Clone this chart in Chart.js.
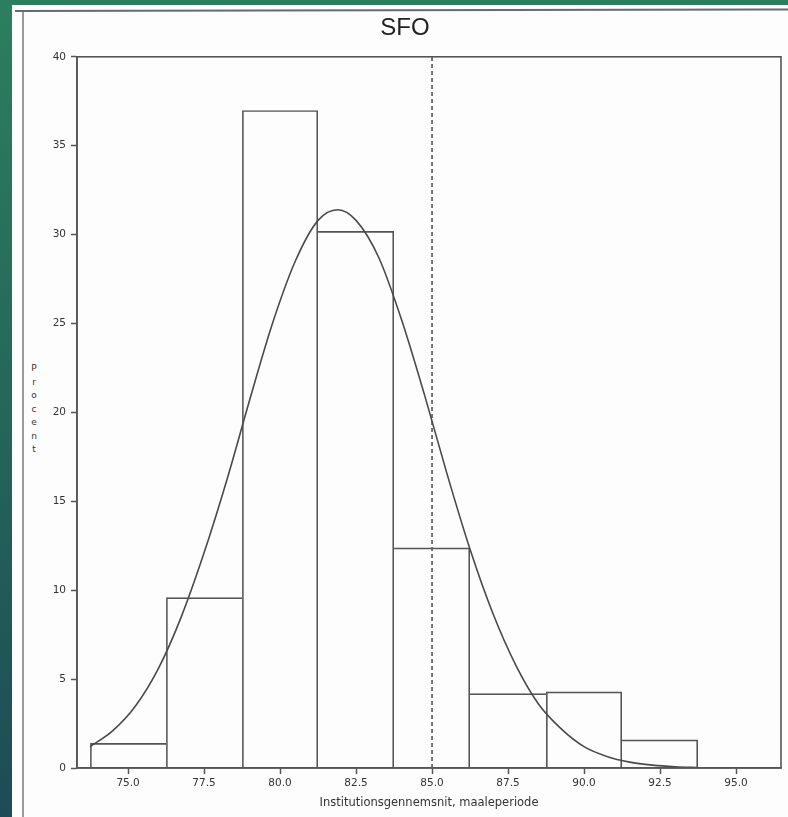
<!DOCTYPE html>
<html>
<head>
<meta charset="utf-8">
<script src="https://cdn.jsdelivr.net/npm/chart.js@4"></script>
<style>
  html, body { margin: 0; padding: 0; }
  body { width: 788px; height: 817px; overflow: hidden; position: relative;
         background: linear-gradient(to bottom, #2b7f5e 0%, #25665a 50%, #1e4b56 100%); }
  #paper { position: absolute; left: 12px; top: 5px; width: 776px; height: 812px; background: #fdfdfd; }
  #topline { position: absolute; left: 15px; top: 10px; width: 773px; height: 2px; background: #6a6a6a; transform: rotate(-0.12deg); transform-origin: left center; }
  #leftline { position: absolute; left: 22px; top: 12px; width: 2px; height: 805px; background: #9a9a9a; }
  #wrap { position: absolute; left: 0; top: 0; width: 788px; height: 817px; }
  #ytitle { position: absolute; left: 27px; top: 362px; width: 14px; text-align: center;
            font-family: "DejaVu Sans", sans-serif; font-size: 9px; line-height: 13.5px; color: #333; }
</style>
</head>
<body>
<div id="paper"></div>
<div id="topline"></div>
<div id="leftline"></div>
<div id="ytitle">P<br>r<br>o<br>c<br>e<br>n<br>t</div>
<div id="wrap"><canvas id="c" width="788" height="817"></canvas></div>
<script>
// ---- data ----
const chartTitle = 'SFO';
const xAxisTitle = 'Institutionsgennemsnit, maaleperiode';
const binCenters = [75.0, 77.5, 80.0, 82.5, 85.0, 87.5, 90.0, 92.5];
const binPercent = [1.4, 9.6, 37.0, 30.2, 12.4, 4.2, 4.3, 1.6];
const curveX = [73.75, 74.5, 75.25, 76.0, 76.75, 77.5, 78.25, 79.0, 79.75, 80.5, 81.25, 81.9,
                82.5, 83.25, 84.0, 84.75, 85.5, 86.25, 87.0, 87.75, 88.5, 89.25, 90.0, 90.75,
                91.5, 92.25, 93.0, 93.75];
const curveY = [1.2, 2.1, 3.5, 5.6, 8.5, 12.1, 16.2, 20.7, 25.0, 28.5, 30.8, 31.4,
                30.8, 28.7, 25.2, 21.0, 16.5, 12.3, 8.7, 5.8, 3.6, 2.2, 1.2, 0.65,
                0.33, 0.16, 0.07, 0.03];
const refLineX = [85.0, 85.0];
const refLineY = [0, 40];
const xTicks = [75.0, 77.5, 80.0, 82.5, 85.0, 87.5, 90.0, 92.5, 95.0];
const yTicks = [0, 5, 10, 15, 20, 25, 30, 35, 40];
const xRange = [73.32, 96.48];
const yRange = [0, 40];

const ink = '#555';
const txt = '#333';
const bw = 1.6;

// shared bar edges are drawn once, by the taller neighbour
function barBorder(ctx) {
  const i = ctx.dataIndex, h = binPercent, n = h.length;
  return {
    top: bw,
    bottom: 0,
    left: (i === 0 || h[i] > h[i - 1]) ? bw : 0,
    right: (i === n - 1 || h[i] >= h[i + 1]) ? bw : 0
  };
}

const framePlugin = {
  id: 'frame',
  afterDatasetsDraw(chart) {
    const a = chart.chartArea, ctx = chart.ctx;
    ctx.save();
    ctx.strokeStyle = ink;
    ctx.lineWidth = bw;
    ctx.strokeRect(a.left, a.top, a.right - a.left, a.bottom - a.top);
    ctx.restore();
  }
};

new Chart(document.getElementById('c'), {
  type: 'bar',
  data: {
    datasets: [
      {
        type: 'line',
        data: curveX.map((x, i) => ({ x, y: curveY[i] })),
        borderColor: '#4a4a4a',
        borderWidth: 1.6,
        pointRadius: 0,
        fill: false,
        cubicInterpolationMode: 'monotone',
        order: 1
      },
      {
        type: 'line',
        data: refLineX.map((x, i) => ({ x, y: refLineY[i] })),
        borderColor: '#666',
        borderWidth: 1.8,
        borderDash: [4, 3],
        pointRadius: 0,
        fill: false,
        order: 2
      },
      {
        type: 'bar',
        data: binCenters.map((x, i) => ({ x, y: binPercent[i] })),
        backgroundColor: 'rgba(255,255,255,0)',
        borderColor: ink,
        borderWidth: barBorder,
        borderSkipped: false,
        inflateAmount: 0,
        barPercentage: 1,
        categoryPercentage: 1,
        order: 3
      }
    ]
  },
  options: {
    responsive: false,
    devicePixelRatio: 1,
    animation: false,
    layout: { padding: { left: 29, right: 7, top: 0, bottom: 0 } },
    plugins: {
      legend: { display: false },
      tooltip: { enabled: false },
      title: {
        display: true,
        text: chartTitle,
        color: '#222',
        font: { family: 'Liberation Sans', size: 24, weight: 'normal' },
        padding: { top: 14, bottom: 14 }
      }
    },
    scales: {
      x: {
        type: 'linear',
        min: xRange[0], max: xRange[1],
        offset: false,
        afterBuildTicks: s => { s.ticks = xTicks.map(v => ({ value: v })); },
        afterFit: s => { s.height = 49; },
        grid: { offset: false, drawOnChartArea: false, drawTicks: true, tickLength: 6, tickColor: ink, tickWidth: 1.5 },
        border: { display: true, color: ink, width: bw },
        ticks: {
          autoSkip: false, maxRotation: 0, padding: 3, color: txt,
          font: { family: 'DejaVu Sans', size: 10.5 },
          callback: v => Number(v).toFixed(1)
        },
        title: {
          display: true, text: xAxisTitle, color: txt,
          font: { family: 'DejaVu Sans', size: 11.5 },
          padding: { top: 0, bottom: 7 }
        }
      },
      y: {
        type: 'linear',
        min: yRange[0], max: yRange[1],
        afterBuildTicks: s => { s.ticks = yTicks.map(v => ({ value: v })); },
        afterFit: s => { s.width = 48; },
        grid: { drawOnChartArea: false, drawTicks: true, tickLength: 6, tickColor: ink, tickWidth: 1.5 },
        border: { display: true, color: ink, width: bw },
        ticks: {
          autoSkip: false, padding: 5, color: txt,
          font: { family: 'DejaVu Sans', size: 10.5 }
        }
      }
    }
  },
  plugins: [framePlugin]
});
</script>
</body>
</html>
